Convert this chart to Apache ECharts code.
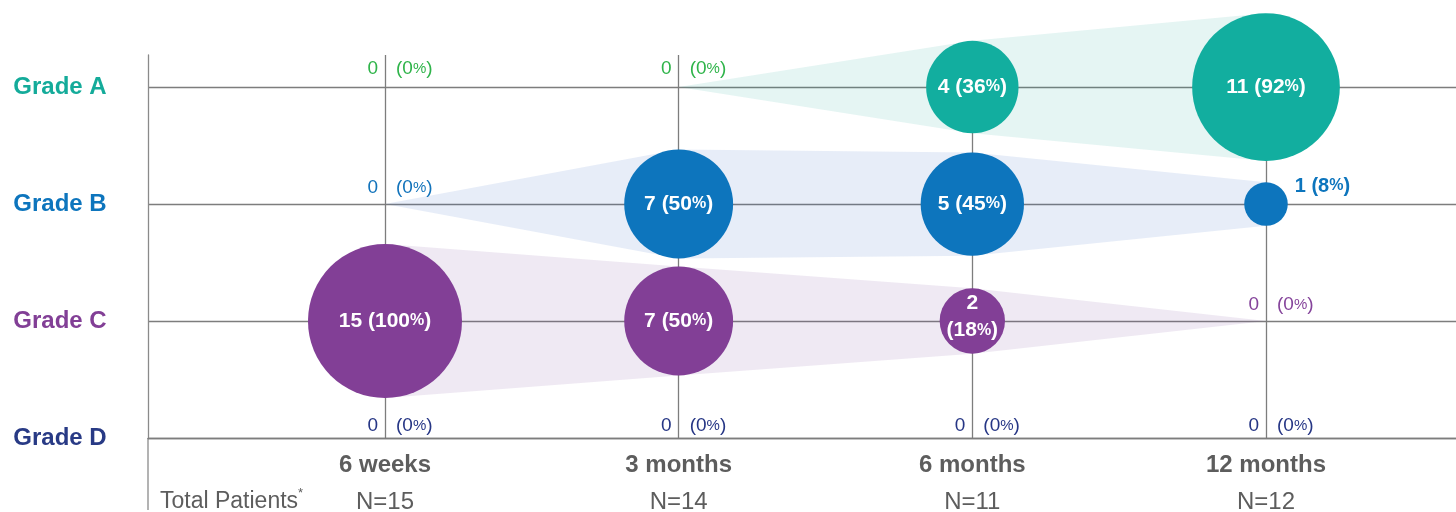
<!DOCTYPE html>
<html>
<head>
<meta charset="utf-8">
<script src="https://cdn.jsdelivr.net/npm/echarts@6/dist/echarts.min.js"></script>
<style>
  html, body { margin: 0; padding: 0; background: #fff; }
  #chart { width: 1456px; height: 512px; }
</style>
</head>
<body>
<div id="chart"></div>
<script>
// time points along the bottom axis
var timePoints = ['6 weeks', '3 months', '6 months', '12 months'];
var totalPatients = ['N=15', 'N=14', 'N=11', 'N=12'];
// grades, bottom row first (y = 0..3)
var grades = ['Grade D', 'Grade C', 'Grade B', 'Grade A'];
// patients per grade at each time point
var countA = [0, 0, 4, 11];
var countB = [0, 7, 5, 1];
var countC = [15, 7, 2, 0];
var countD = [0, 0, 0, 0];
// percentage of patients at that time point
var pctA = [0, 0, 36, 92];
var pctB = [0, 50, 45, 8];
var pctC = [100, 50, 18, 0];
var pctD = [0, 0, 0, 0];

var FONT = '"Liberation Sans", Arial, sans-serif';
var GRID_COLOR = '#7d7d7d';
var TEXT_GRAY = '#5d5d5d';

var rows = [
  { y: 3, count: countA, pct: pctA, color: '#12ae9f', band: 'rgba(18,160,150,0.11)', zero: '#2fb44a', gap: 8 },
  { y: 2, count: countB, pct: pctB, color: '#0d75bd', band: 'rgba(40,90,190,0.11)', zero: '#1273bb', gap: 6 },
  { y: 1, count: countC, pct: pctC, color: '#823f96', band: 'rgba(120,70,160,0.12)', zero: '#85449b', gap: 6 },
  { y: 0, count: countD, pct: pctD, color: '#2b3a86', band: 'rgba(40,58,134,0.1)', zero: '#263685', gap: 2 }
];
var gradeColors = ['#283a85', '#823f96', '#0d75bd', '#14ab9a'];

// bubble area follows the percentage
function radius(p) { return 7.7 * Math.sqrt(p); }

var bubbleData = [], zeroData = [];
rows.forEach(function (row) {
  row.pct.forEach(function (p, i) {
    var n = row.count[i];
    if (p > 0) {
      var r = radius(p);
      var lbl;
      if (r >= 40) {
        lbl = { position: 'inside', formatter: '{n|' + n + ' (' + p + '}{s|%}{n|)}' };
      } else if (r >= 28) {
        lbl = {
          position: 'inside', offset: [0, -4],
          formatter: '{n2|' + n + '}\n{n2|(' + p + '}{s2|%}{n2|)}'
        };
      } else {
        lbl = {
          position: 'right', distance: 7, offset: [0, -18],
          formatter: '{o|' + n + ' (' + p + '}{os|%}{o|)}',
          rich: {
            o: { color: row.color, fontFamily: FONT, fontWeight: 'bold', fontSize: 20, lineHeight: 20 },
            os: { color: row.color, fontFamily: FONT, fontWeight: 'bold', fontSize: 16, lineHeight: 20 }
          }
        };
      }
      bubbleData.push({
        value: [i + 1, row.y, n, p],
        symbolSize: 2 * r,
        itemStyle: { color: row.color, opacity: 1 },
        label: lbl
      });
    } else {
      zeroData.push({ value: [i + 1, row.y, n, p], color: row.zero, gap: row.gap });
    }
  });
});

var chart = echarts.init(document.getElementById('chart'));

var option = {
  backgroundColor: '#fff',
  animation: false,
  grid: { left: 148, right: 0, top: 55, bottom: 74, outerBoundsMode: 'none' },
  xAxis: {
    type: 'value',
    min: 0.193,
    max: 4.647,
    axisLine: { show: true, lineStyle: { color: GRID_COLOR, width: 1.3 } },
    axisTick: { show: false, customValues: [1, 2, 3, 4] },
    splitLine: { show: true, lineStyle: { color: GRID_COLOR, width: 1.3 } },
    axisLabel: {
      customValues: [1, 2, 3, 4],
      margin: 9,
      formatter: function (v) {
        var i = Math.round(v) - 1;
        return '{a|' + timePoints[i] + '}\n{b|' + totalPatients[i] + '}';
      },
      rich: {
        a: { fontFamily: FONT, fontWeight: 'bold', fontSize: 24, color: TEXT_GRAY, lineHeight: 36 },
        b: { fontFamily: FONT, fontSize: 24, color: TEXT_GRAY, lineHeight: 38 }
      }
    }
  },
  yAxis: {
    type: 'value',
    min: 0,
    max: 3.274,
    axisLine: { show: true, lineStyle: { color: '#8a8a8a', width: 1.3 } },
    axisTick: { show: false, customValues: [0, 1, 2, 3] },
    splitLine: { show: true, lineStyle: { color: GRID_COLOR, width: 1.3 } },
    axisLabel: {
      customValues: [0, 1, 2, 3],
      margin: 88,
      align: 'center',
      padding: [4, 0, 0, 0],
      fontFamily: FONT,
      fontWeight: 'bold',
      fontSize: 24,
      color: function (v) { return gradeColors[Math.round(v)]; },
      formatter: function (v) { return grades[Math.round(v)]; }
    }
  },
  graphic: [
    { type: 'line', shape: { x1: 148, y1: 438, x2: 148, y2: 510 }, style: { stroke: '#8a8a8a', lineWidth: 1.3 } },
    {
      type: 'text', left: 160, top: 487,
      style: {
        text: '{t|Total Patients}{s|*}',
        rich: {
          t: { fontFamily: FONT, fontSize: 23, fill: TEXT_GRAY, lineHeight: 30 },
          s: { fontFamily: FONT, fontSize: 13, fill: TEXT_GRAY, lineHeight: 13, verticalAlign: 'top' }
        }
      }
    }
  ],
  series: [
    {
      // shaded wedges joining bubble edges of each grade
      type: 'custom',
      data: rows.map(function (row) { return [1, row.y]; }),
      z: 1,
      renderItem: function (params, api) {
        var row = rows[params.dataIndex];
        var p = row.pct;
        var first = -1, last = -1;
        p.forEach(function (v, i) { if (v > 0) { if (first < 0) first = i; last = i; } });
        if (first < 0) return null;
        var from = Math.max(first - 1, 0), to = Math.min(last + 1, p.length - 1);
        var top = [], bot = [];
        for (var i = from; i <= to; i++) {
          var c = api.coord([i + 1, row.y]);
          var r = radius(p[i]);
          top.push([c[0], c[1] - r]);
          bot.unshift([c[0], c[1] + r]);
        }
        return { type: 'polygon', shape: { points: top.concat(bot) }, style: { fill: row.band } };
      }
    },
    {
      type: 'scatter',
      z: 3,
      clip: false,
      data: bubbleData,
      label: {
        show: true,
        rich: {
          n: { color: '#fff', fontFamily: FONT, fontWeight: 'bold', fontSize: 21, lineHeight: 21 },
          s: { color: '#fff', fontFamily: FONT, fontWeight: 'bold', fontSize: 16, lineHeight: 21 },
          n2: { color: '#fff', fontFamily: FONT, fontWeight: 'bold', fontSize: 21, lineHeight: 27 },
          s2: { color: '#fff', fontFamily: FONT, fontWeight: 'bold', fontSize: 16, lineHeight: 27 }
        }
      }
    },
    {
      // zero count, left of the line
      type: 'scatter',
      symbolSize: 1,
      itemStyle: { color: 'rgba(0,0,0,0)', opacity: 1 },
      data: zeroData.map(function (d) {
        return { value: d.value, label: { color: d.color, distance: d.gap } };
      }),
      label: {
        show: true, position: 'top', align: 'right', offset: [-7, 0],
        fontFamily: FONT, fontSize: 19,
        formatter: function (p) { return String(p.value[2]); }
      }
    },
    {
      // zero percentage, right of the line
      type: 'scatter',
      symbolSize: 1,
      itemStyle: { color: 'rgba(0,0,0,0)', opacity: 1 },
      data: zeroData.map(function (d) {
        return {
          value: d.value,
          label: {
            distance: d.gap,
            rich: { a: { color: d.color, fontFamily: FONT, fontSize: 19 }, b: { color: d.color, fontFamily: FONT, fontSize: 15 } }
          }
        };
      }),
      label: {
        show: true, position: 'top', align: 'left', offset: [11, 0],
        formatter: function (p) { return '{a|(' + p.value[3] + '}{b|%}{a|)}'; }
      }
    }
  ]
};

chart.setOption(option);
</script>
</body>
</html>
